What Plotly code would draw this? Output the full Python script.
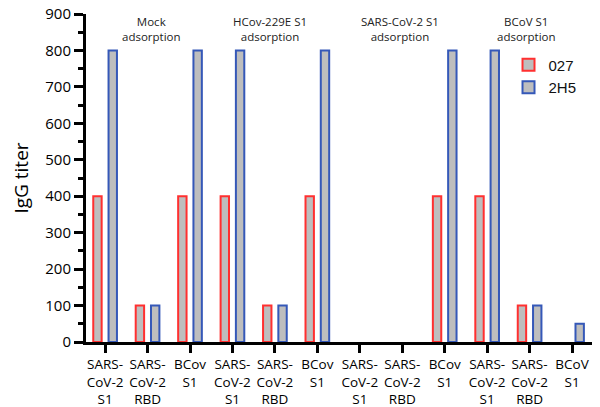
import plotly.graph_objects as go

categories = ["SARS-<br>CoV-2<br>S1", "SARS-<br>CoV-2<br>RBD", "BCov<br>S1",
              "SARS-<br>CoV-2<br>S1", "SARS-<br>CoV-2<br>RBD", "BCov<br>S1",
              "SARS-<br>CoV-2<br>S1", "SARS-<br>CoV-2<br>RBD", "BCov<br>S1",
              "SARS-<br>CoV-2<br>S1", "SARS-<br>CoV-2<br>RBD", "BCoV<br>S1"]
series_027 = [400, 100, 400, 400, 100, 400, 0, 0, 400, 400, 100, 0]
series_2H5 = [800, 100, 800, 800, 100, 800, 0, 0, 800, 800, 100, 50]
group_labels = ["Mock<br>adsorption", "HCov-229E S1<br>adsorption",
                "SARS-CoV-2 S1<br>adsorption", "BCoV S1<br>adsorption"]
group_label_x = [1.10, 3.89, 6.95, 9.92]

xpos = list(range(len(categories)))
def nz(v):
    return [None if x == 0 else x for x in v]

fill = "#BEBEBE"
fig = go.Figure()
fig.add_trace(go.Bar(x=xpos, y=nz(series_027), name="027",
                     marker=dict(color=fill, line=dict(color="#FF3030", width=2))))
fig.add_trace(go.Bar(x=xpos, y=nz(series_2H5), name="2H5",
                     marker=dict(color=fill, line=dict(color="#3558B8", width=2))))

for lab, gx in zip(group_labels, group_label_x):
    fig.add_annotation(x=gx, xref="x", y=0.955, yref="paper", yanchor="middle",
                       text=lab, showarrow=False,
                       font=dict(family="Open Sans", size=11.5, color="#222"),
                       align="center")

fig.update_layout(
    width=600, height=407,
    margin=dict(l=86, r=8, t=14, b=65),
    plot_bgcolor="white", paper_bgcolor="white",
    barmode="group", bargap=0.28, bargroupgap=0.45,
    font=dict(family="Open Sans", size=15, color="black"),
    legend=dict(x=0.835, y=0.895, xanchor="left", yanchor="top",
                font=dict(family="Liberation Sans", size=15, color="#111"),
                bgcolor="rgba(0,0,0,0)", itemsizing="constant", tracegroupgap=0),
    xaxis=dict(tickvals=xpos, ticktext=categories, range=[-0.45, 11.47],
               showline=True, linecolor="black", linewidth=3,
               ticks="outside", ticklen=8, tickwidth=3, tickcolor="black",
               showgrid=False, zeroline=False, tickangle=0, automargin=False,
               tickfont=dict(family="Open Sans", size=13.5)),
    yaxis=dict(range=[0, 900], tickvals=list(range(0, 901, 100)),
               showline=True, linecolor="black", linewidth=3,
               ticks="outside", ticklen=9, tickwidth=3, tickcolor="black",
               minor=dict(ticks="outside", ticklen=5, tickwidth=3, tickcolor="black", dtick=50),
               showgrid=False, zeroline=False, automargin=False,
               tickfont=dict(family="Open Sans", size=15),
               title=dict(text="IgG titer", font=dict(family="Open Sans", size=19), standoff=12)),
)

fig.write_html("out.html", config={"displayModeBar": False},
               post_script="document.body.style.margin='0px';document.body.style.overflow='hidden';")
